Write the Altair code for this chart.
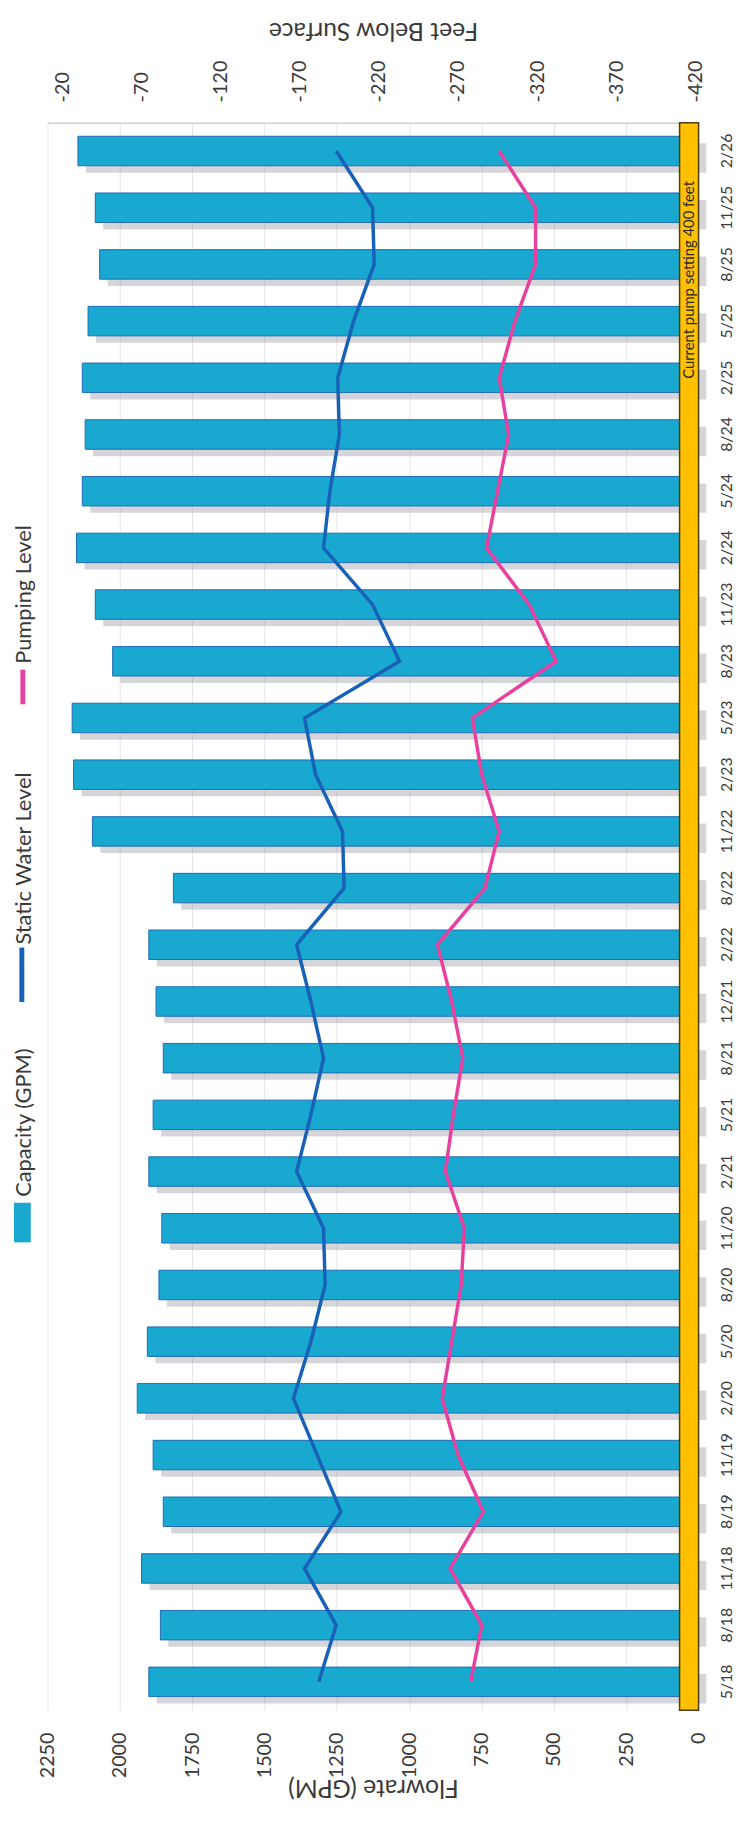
import altair as alt
import pandas as pd

# ---- data ----
dates = ["5/18", "8/18", "11/18", "8/19", "11/19", "2/20", "5/20", "8/20", "11/20",
         "2/21", "5/21", "8/21", "12/21", "2/22", "8/22", "11/22", "2/23", "5/23",
         "8/23", "11/23", "2/24", "5/24", "8/24", "2/25", "5/25", "8/25", "11/25", "2/26"]
capacity = [1900, 1860, 1925, 1850, 1885, 1940, 1905, 1865, 1855, 1900, 1885, 1850, 1875, 1900,
            1815, 2095, 2160, 2165, 2025, 2085, 2150, 2130, 2120, 2130, 2110, 2070, 2085, 2145]
static_level = [-182, -193, -173, -196, -181, -166, -177, -186, -185, -168, -177, -185, -177, -168,
                -198, -197, -180, -173, -233, -216, -185, -189, -195, -194, -204, -217, -216, -193]
pumping_level = [-278, -285, -265, -286, -270, -260, -266, -272, -274, -262, -267, -273, -266, -257,
                 -287, -296, -285, -279, -332, -315, -288, -295, -302, -296, -306, -319, -319, -296]
flow_ticks = [0, 250, 500, 750, 1000, 1250, 1500, 1750, 2000, 2250]
feet_ticks = [-20, -70, -120, -170, -220, -270, -320, -370, -420]
legend_labels = ["Capacity (GPM)", "Static Water Level", "Pumping Level"]
pump_setting = {"label": "Current pump setting 400 feet", "lo": -410, "hi": -422, "mid": -416}

FONT = "Lato"
TXT = "#3a3a3a"
BAR = "#18A8D0"
BLUE = "#1861B8"
PINK = "#E8409F"
W, H = 658, 1605

df = pd.DataFrame({"date": dates, "capacity": capacity, "static": static_level,
                   "pumping": pumping_level, "i": list(range(len(dates)))})

y_enc = alt.Y("date:N",
              scale=alt.Scale(domain=dates[::-1], paddingInner=0.48, paddingOuter=0.24),
              axis=alt.Axis(orient="right", labelAngle=270, labelAlign="center",
                            labelBaseline="middle", labelPadding=28, ticks=False,
                            domain=False, title=None, labelFontSize=16, labelFont=FONT,
                            labelColor=TXT, labelOverlap=False))

flow_scale = alt.Scale(domain=[0, 2250], reverse=True, nice=False, zero=True)
feet_scale = alt.Scale(domain=[-421.9, -10.6], reverse=True, nice=False, zero=False)

shadow = alt.Chart(df).mark_bar(color="#8a8a96", opacity=0.35, xOffset=8, yOffset=7).encode(
    x=alt.X("capacity:Q", scale=flow_scale, axis=None),
    y=y_enc,
)

bars = alt.Chart(df).mark_bar(color=BAR, stroke="#1f6bb5", strokeWidth=1).encode(
    x=alt.X("capacity:Q", scale=flow_scale,
            axis=alt.Axis(orient="bottom", values=flow_ticks, labelAngle=270,
                          labelAlign="right", labelBaseline="middle", labelPadding=22,
                          labelExpr="toString(datum.value)",
                          labelFontSize=20, labelFont=FONT, labelColor=TXT,
                          labelFlush=False, labelOverlap=False,
                          ticks=False, domain=False, grid=True, gridColor="#e6e6e6",
                          title="Flowrate (GPM)", titleAngle=180, titleBaseline="alphabetic",
                          titleY=70, titleFontSize=25, titleFont=FONT,
                          titleFontWeight="normal", titleColor=TXT)),
    y=y_enc,
)

static_line = alt.Chart(df).mark_line(color=BLUE, strokeWidth=3.5).encode(
    x=alt.X("static:Q", scale=feet_scale,
            axis=alt.Axis(orient="top", values=feet_ticks, labelAngle=270,
                          labelAlign="left", labelBaseline="middle", labelPadding=21,
                          labelExpr="toString(datum.value)",
                          labelFontSize=20, labelFont=FONT, labelColor=TXT,
                          labelFlush=False, labelOverlap=False,
                          ticks=False, domain=True, domainColor="#cfcfcf", domainWidth=1.5,
                          grid=False,
                          title="Feet Below Surface", titleAngle=180,
                          titleBaseline="alphabetic", titleY=-101, titleFontSize=25,
                          titleFont=FONT, titleFontWeight="normal", titleColor=TXT)),
    y=y_enc,
    order="i:Q",
)

pump_line = alt.Chart(df).mark_line(color=PINK, strokeWidth=3.5).encode(
    x=alt.X("pumping:Q", scale=feet_scale, axis=None),
    y=y_enc,
    order="i:Q",
)

pump_df = pd.DataFrame({"lo": [pump_setting["lo"]], "hi": [pump_setting["hi"]],
                        "mid": [pump_setting["mid"]], "label": [pump_setting["label"]]})

orange = alt.Chart(pump_df).mark_rect(color="#FFC000", stroke="#4d3d10", strokeWidth=1.5).encode(
    x=alt.X("lo:Q", scale=feet_scale, axis=None),
    x2="hi:Q",
    y=alt.value(0),
    y2=alt.value(H),
)

orange_text = alt.Chart(pump_df).mark_text(angle=270, fontSize=15, font=FONT, color="#2b2b2b").encode(
    x=alt.X("mid:Q", scale=feet_scale, axis=None),
    y=alt.value(159),
    text="label:N",
)

def leg_text(label, y):
    return alt.Chart(pd.DataFrame({"t": [label]})).mark_text(
        angle=270, align="left", baseline="middle", fontSize=22, font=FONT, color=TXT
    ).encode(x=alt.value(-24), y=alt.value(y), text="t:N")

leg_swatch = alt.Chart(pd.DataFrame({"t": [legend_labels[0]]})).mark_rect(color=BAR).encode(
    x=alt.value(-34), x2=alt.value(-17), y=alt.value(1092), y2=alt.value(1132))
leg_static = alt.Chart(pd.DataFrame({"t": [legend_labels[1]]})).mark_rule(color=BLUE, strokeWidth=5).encode(
    x=alt.value(-26), y=alt.value(834), y2=alt.value(889))
leg_pump = alt.Chart(pd.DataFrame({"t": [legend_labels[2]]})).mark_rule(color=PINK, strokeWidth=5).encode(
    x=alt.value(-25), y=alt.value(553), y2=alt.value(588))

chart = alt.layer(
    shadow, bars, static_line, pump_line, orange, orange_text,
    leg_swatch, leg_static, leg_pump,
    leg_text(legend_labels[0], 1086), leg_text(legend_labels[1], 831), leg_text(legend_labels[2], 547),
).resolve_scale(x="independent").properties(
    width=W, height=H,
    autosize=alt.AutoSizeParams(type="none"),
    padding={"left": 40, "top": 106, "right": 37, "bottom": 94},
    background="white",
).configure_view(stroke=None)

chart.save("out.html", embed_options={"renderer": "svg", "actions": False})
